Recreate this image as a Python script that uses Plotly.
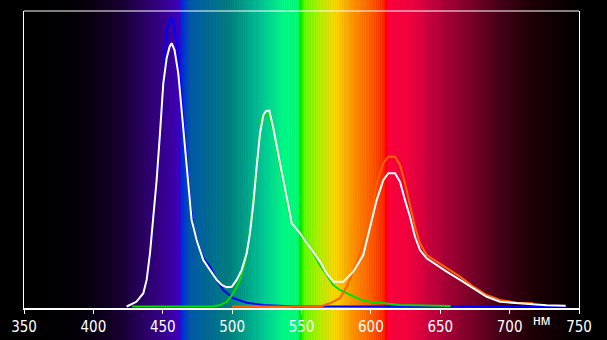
import plotly.graph_objects as go

# ---- data ----
blue_nm = [424, 431, 436, 438.4, 440.8, 443.2, 445.6, 448, 450.4, 452.8, 454, 456.4, 458.1, 460,
           462.4, 464.8, 467.2, 469.6, 472, 474.4, 479.2, 484, 488.9, 493.6, 500.9, 510.5, 522.5,
           534.5, 545, 600, 680, 740.5]
blue_v = [0, 1.6, 4.5, 9.0, 18, 29.3, 42.8, 58.6, 75.5, 93.6, 95.3, 97.9, 95.3, 89,
          77.8, 64.2, 49.6, 36, 27, 22.5, 16.3, 13.5, 9, 5.6, 2.8, 1.3, 0.5,
          0.2, 0, 0, 0, 0]

green_nm = [428, 460, 486.5, 491.3, 496.1, 500.9, 505.7, 509.3, 511.7, 514.1, 516.5, 518.9, 521.3,
            523.7, 526.1, 529.7, 532.1, 534.5, 536.9, 539.3, 541.7, 544.1, 548.9, 553.7, 558.5,
            563.3, 568.2, 572.9, 577.7, 585, 592.2, 599.4, 609, 621, 657.5]
green_v = [0, 0, 0, 0.5, 1.6, 4.5, 9, 14.6, 21.4, 31.5, 42.8, 55.2, 64.2,
           64.8, 64.8, 59.7, 53, 47.3, 41.7, 36, 30.4, 27.6, 24.8, 21.9, 18,
           14, 10.7, 7.3, 5.6, 3.9, 2.4, 1.6, 1.1, 0.5, 0.2]

red_nm = [500, 540, 563.8, 570.5, 577.7, 582.5, 587.3, 592.2, 597, 600.6, 604.2, 609, 612.6, 617.4,
          621, 624.6, 628.2, 631.8, 635.4, 640.2, 647.4, 654.6, 664.3, 673.9, 683.5, 693.1,
          705.1, 717.1]
red_v = [0, 0, 0, 1.1, 2.8, 6.7, 11.8, 18, 24.8, 32.7, 41.7, 48.5, 50.7, 50.7,
         47.9, 41.7, 33.8, 27, 21.4, 17.4, 15.2, 12.9, 10.1, 6.7, 3.9, 2.2,
         1.3, 1.1]

white_nm = [424, 431, 436, 438.4, 440.8, 443.2, 445.6, 448, 450.4, 452.8, 455, 456.4, 458.5, 461.2,
            463.6, 466, 468.4, 470.8, 474.4, 479.2, 484, 488.9, 492.5, 496.1, 499.7, 503.3,
            506.9, 510.5, 512.9, 515.3, 517.7, 520.1, 522.5, 524.5, 526.8, 529.7, 534.5, 539.3,
            543, 548.9, 556.1, 563.3, 568.1, 572.9, 580.1, 587.3, 594.5, 599.4, 604.2, 609,
            612.6, 617.4, 621, 624.6, 628.2, 631.8, 635.4, 640.2, 647.4, 654.6, 664.3, 673.9,
            683.5, 693.1, 705.1, 717.1, 726.7, 740.4]
white_v = [0, 1.6, 4.5, 9.0, 18, 29.3, 42.8, 58.6, 75.5, 84, 88, 89.1, 86.8, 78.9,
           66.5, 53, 39.4, 29.3, 22.5, 15.7, 12.4, 9, 7.3, 6.5, 6.7, 9,
           12.4, 18, 24.8, 34.9, 47.3, 58.6, 64.8, 66.2, 66.3, 60.3, 48.5, 37.2,
           28.2, 24.8, 20.2, 15.2, 11.2, 8.4, 8.4, 11.8, 17.4, 26.5, 36, 42.8,
           45.1, 45.1, 42.2, 36, 30.4, 23.6, 19.1, 16.3, 14, 11.8, 9, 6.2,
           3.3, 1.6, 1.1, 0.85, 0.4, 0.3]

tick_vals = [350, 400, 450, 500, 550, 600, 650, 700, 750]
unit_label = "нм"

# ---- spectrum background colour stops (style) ----
stops = [
    (350, (0, 0, 0)), (385, (3, 0, 6)), (400, (10, 0, 20)), (420, (25, 0, 50)),
    (433, (40, 0, 90)), (450, (55, 0, 140)), (462.5, (65, 0, 195)),
    (463.5, (0, 40, 225)), (470, (0, 90, 170)), (498, (0, 128, 128)),
    (522, (0, 200, 150)), (537, (0, 250, 135)), (547.5, (0, 255, 120)),
    (549.4, (0, 230, 0)), (552.5, (100, 255, 0)), (563, (180, 240, 0)),
    (575, (255, 215, 0)), (587, (255, 150, 0)), (601.5, (255, 90, 0)),
    (609.5, (255, 40, 0)), (611, (255, 0, 0)), (612.5, (255, 0, 60)),
    (630, (240, 0, 64)), (650, (180, 0, 60)), (674, (120, 0, 40)),
    (693, (70, 0, 25)), (717, (30, 0, 5)), (741, (10, 0, 3)), (752, (0, 0, 0)),
]


def spec_color(w):
    for (a, ca), (b, cb) in zip(stops[:-1], stops[1:]):
        if a <= w <= b:
            t = (w - a) / (b - a) if b > a else 0
            return "rgb(%d,%d,%d)" % tuple(round(ca[i] + (cb[i] - ca[i]) * t) for i in range(3))
    return "rgb(0,0,0)"


shapes = []
step = 0.5
w = 350.0
while w < 750:
    shapes.append(dict(type="rect", xref="x", yref="paper", x0=w - 0.2, x1=w + step + 0.2,
                       y0=-0.2, y1=1.2, fillcolor=spec_color(w + step / 2),
                       line=dict(width=0), layer="below"))
    w += step

# top border line
shapes.append(dict(type="line", xref="paper", yref="paper", x0=0, x1=1, y0=1, y1=1,
                   line=dict(color="white", width=1), layer="above"))

fig = go.Figure()
fig.add_trace(go.Scatter(x=blue_nm, y=blue_v, mode="lines", line=dict(color="#0000ff", width=2)))
fig.add_trace(go.Scatter(x=green_nm, y=green_v, mode="lines", line=dict(color="#00e000", width=2)))
fig.add_trace(go.Scatter(x=red_nm, y=red_v, mode="lines", line=dict(color="#ff6000", width=2)))
fig.add_trace(go.Scatter(x=white_nm, y=white_v, mode="lines", line=dict(color="#ffffff", width=2)))

fig.update_layout(
    width=607, height=340,
    margin=dict(l=24, r=28, t=11, b=32, autoexpand=False),
    paper_bgcolor="black", plot_bgcolor="rgba(0,0,0,0)",
    showlegend=False,
    shapes=shapes,
    xaxis=dict(range=[350, 750], tickvals=tick_vals, ticks="outside", ticklen=4, tickwidth=1,
               tickcolor="white", showline=True, linecolor="white", linewidth=2, mirror=False,
               showgrid=False, zeroline=False, automargin=False,
               tickfont=dict(family="Liberation Sans Narrow, Arial Narrow, DejaVu Sans Condensed, sans-serif",
                             size=15, color="white")),
    yaxis=dict(range=[-0.5, 100], showticklabels=False, ticks="", showgrid=False, zeroline=False,
               showline=True, linecolor="white", linewidth=1, mirror=True, automargin=False),
    annotations=[dict(text=unit_label, xref="x", yref="paper", x=723, y=-0.041,
                      xanchor="center", yanchor="middle", showarrow=False,
                      font=dict(family="Liberation Sans Narrow, Liberation Sans, sans-serif",
                                size=14, color="white"))],
)

fig.write_html("out.html")
